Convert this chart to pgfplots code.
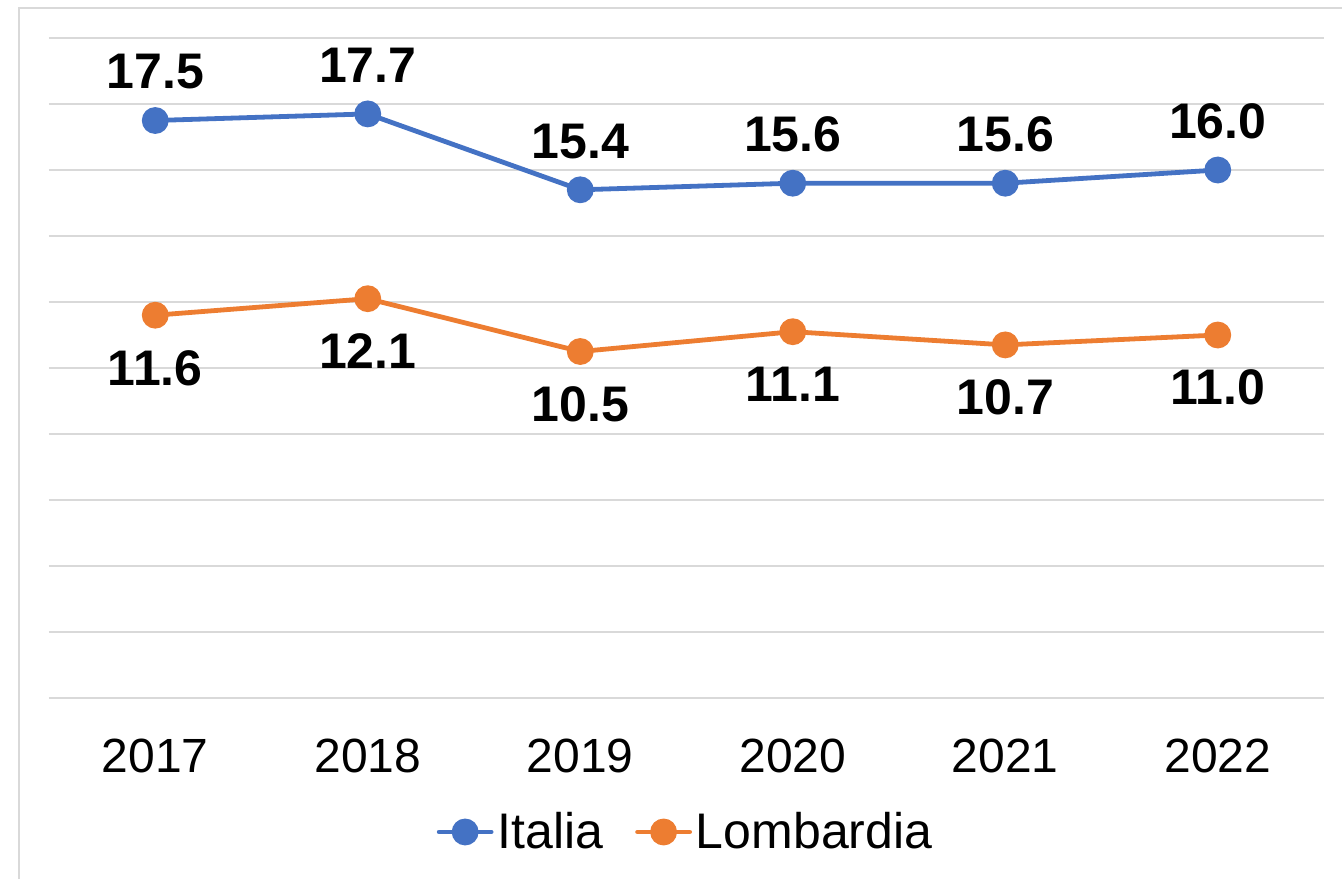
\documentclass[border=0pt]{standalone}
\usepackage{fontspec}
\setmainfont{Liberation Sans}
\usepackage{pgfplots}
\pgfplotsset{compat=1.18}
\definecolor{cblue}{HTML}{4472C4}
\definecolor{corange}{HTML}{ED7D31}
\definecolor{gridgray}{HTML}{D9D9D9}
\begin{document}
\begin{tikzpicture}
\path[use as bounding box] (0,0) rectangle (671pt,439.5pt);
\draw[gridgray, line width=1pt] (9.5pt,0) -- (9.5pt,435.5pt) -- (671pt,435.5pt);
\begin{axis}[
  at={(24.5pt,90.5pt)}, anchor=south west,
  scale only axis, width=637.5pt, height=330pt,
  xmin=-0.5, xmax=5.5, ymin=0, ymax=20,
  axis line style={draw=none},
  ytick={0,2,...,20}, yticklabels={},
  ymajorgrids, grid style={gridgray, line width=0.75pt},
  xtick={0,...,5}, xticklabels={2017,2018,2019,2020,2021,2022},
  major tick length=0pt,
  xticklabel style={font=\fontsize{24}{28}\selectfont, yshift=-17pt},
  clip=false,
  every node near coord/.append style={font=\fontsize{25}{30}\selectfont\bfseries, text=black},
  legend style={at={(0.5,-0.203)}, anchor=center, draw=none, fill=none,
    legend columns=2, font=\fontsize{25}{30}\selectfont,
    /tikz/every even column/.append style={column sep=14pt}},
  legend image code/.code={
    \draw[#1, line width=2.4pt, line cap=round] (0pt,0pt) -- (26pt,0pt);
    \fill[#1] (13pt,0pt) circle (5.5pt);
  },
]
\addplot[cblue, line width=2.4pt, mark=*, mark size=5.5pt, mark options={solid},
  nodes near coords, point meta=explicit symbolic,
  every node near coord/.append style={anchor=south, yshift=11pt}]
  coordinates {(0,17.5)[17.5] (1,17.7)[17.7] (2,15.4)[15.4] (3,15.6)[15.6] (4,15.6)[15.6] (5,16.0)[16.0]};
\addlegendentry{Italia}
\addplot[corange, line width=2.4pt, mark=*, mark size=5.5pt, mark options={solid},
  nodes near coords, point meta=explicit symbolic,
  every node near coord/.append style={anchor=north, yshift=-13pt}]
  coordinates {(0,11.6)[11.6] (1,12.1)[12.1] (2,10.5)[10.5] (3,11.1)[11.1] (4,10.7)[10.7] (5,11.0)[11.0]};
\addlegendentry{Lombardia}
\end{axis}
\end{tikzpicture}
\end{document}
